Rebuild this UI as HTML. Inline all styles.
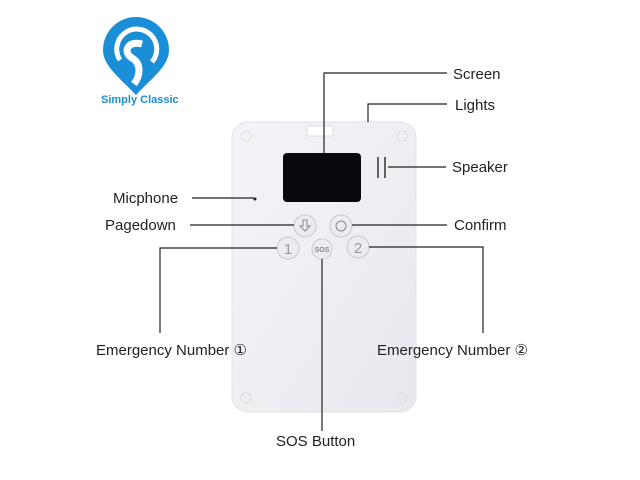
<!DOCTYPE html>
<html><head><style>
body{margin:0;width:640px;height:480px;background:#fff;position:relative;overflow:hidden;font-family:"Liberation Sans",sans-serif}
.t{position:absolute;font-size:15px;color:#222;line-height:18px;white-space:nowrap}
</style></head><body>
<svg width="640" height="480" style="position:absolute;left:0;top:0">
<defs><linearGradient id="g" x1="0" y1="0" x2="1" y2="1"><stop offset="0" stop-color="#f4f4f8"/><stop offset="1" stop-color="#e8e8ee"/></linearGradient></defs>
<path d="M136 95 C120 78 103 66 103 50 A33 33 0 1 1 169 50 C169 66 152 78 136 95Z" fill="#1a8fd8"/>
<path d="M120 60 A20 20 0 1 1 152 62" fill="none" stroke="#fff" stroke-width="5"/>
<path d="M142 44 C128 40 122 52 132 58 C142 64 140 76 134 84" fill="none" stroke="#fff" stroke-width="7"/>
<text x="101" y="103" font-family="Liberation Sans" font-size="11" font-weight="bold" fill="#1a8fd8">Simply Classic</text>
<rect x="232" y="122" width="184" height="290" rx="16" fill="url(#g)" stroke="#e0e0e6"/>
<rect x="307" y="126" width="26" height="10" fill="#fff" stroke="#ddd"/>
<circle cx="246" cy="136" r="5" fill="none" stroke="#ddd"/>
<circle cx="402" cy="136" r="5" fill="none" stroke="#ddd"/>
<circle cx="246" cy="398" r="5" fill="none" stroke="#ddd"/>
<circle cx="402" cy="398" r="5" fill="none" stroke="#ddd"/>
<rect x="283" y="153" width="78" height="49" rx="4" fill="#0a0a0e"/>
<line x1="378" y1="157" x2="378" y2="178" stroke="#333" stroke-width="1.5"/>
<line x1="385" y1="157" x2="385" y2="178" stroke="#333" stroke-width="1.5"/>
<circle cx="255" cy="199" r="1.5" fill="#222"/>
<g fill="#ececf0" stroke="#c8c8d0">
<circle cx="305" cy="226" r="11"/><circle cx="341" cy="226" r="11"/>
<circle cx="288" cy="248" r="11"/><circle cx="322" cy="249" r="10"/><circle cx="358" cy="247" r="11"/>
</g>
<circle cx="341" cy="226" r="5" fill="none" stroke="#888"/>
<path d="M303 220 v6 h-3 l5 5 l5 -5 h-3 v-6z" fill="none" stroke="#888"/>
<text x="288" y="254" font-size="15" fill="#999" text-anchor="middle">1</text>
<text x="358" y="253" font-size="15" fill="#999" text-anchor="middle">2</text>
<text x="322" y="252" font-size="7" font-weight="bold" fill="#888" text-anchor="middle">SOS</text>
<g stroke="#222" stroke-width="1.2" fill="none">
<polyline points="324,153 324,73 447,73"/>
<polyline points="368,122 368,104 447,104"/>
<line x1="388" y1="167" x2="446" y2="167"/>
<line x1="192" y1="198" x2="254" y2="198"/>
<line x1="190" y1="225" x2="294" y2="225"/>
<line x1="352" y1="225" x2="447" y2="225"/>
<polyline points="277,248 160,248 160,333"/>
<polyline points="369,247 483,247 483,333"/>
<line x1="322" y1="259" x2="322" y2="431"/>
</g>
</svg>
<div class="t" style="left:453px;top:66px">Screen</div>
<div class="t" style="left:455px;top:97px">Lights</div>
<div class="t" style="left:452px;top:159px">Speaker</div>
<div class="t" style="left:113px;top:190px">Micphone</div>
<div class="t" style="left:105px;top:217px">Pagedown</div>
<div class="t" style="left:454px;top:217px">Confirm</div>
<div class="t" style="left:96px;top:342px">Emergency Number ①</div>
<div class="t" style="left:377px;top:342px">Emergency Number ②</div>
<div class="t" style="left:276px;top:433px">SOS Button</div>
</body></html>
